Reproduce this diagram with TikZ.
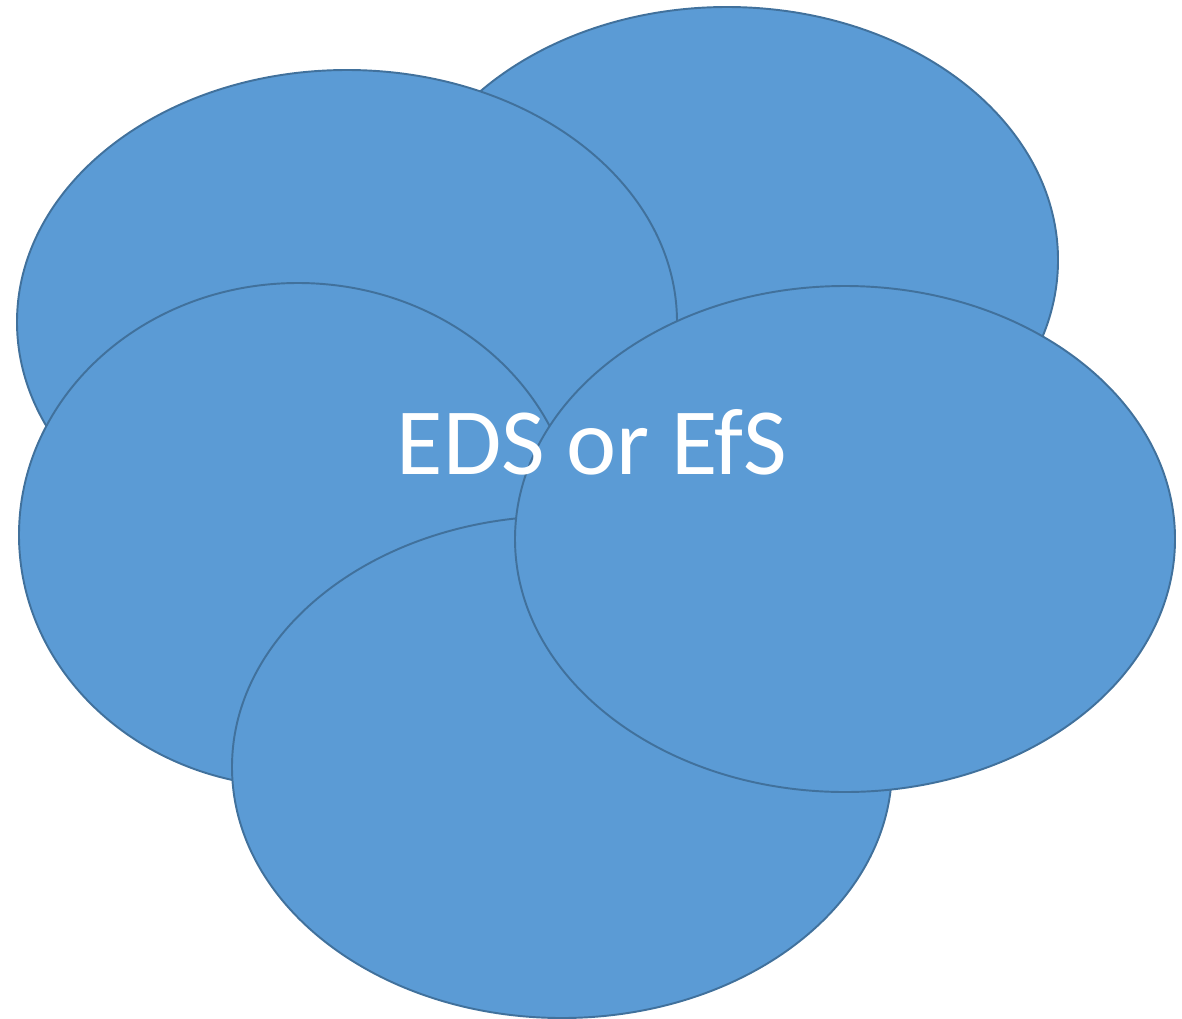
\documentclass[tikz,border=0pt]{standalone}
\usepackage{fontspec}
\setmainfont{Carlito}
\usepackage{xcolor}
\definecolor{blobfill}{HTML}{5B9BD5}
\definecolor{blobline}{HTML}{41719C}

\begin{document}
\begin{tikzpicture}[x=0.02cm,y=0.02cm]
        \tikzstyle{blob}=[fill=blobfill,draw=blobline,line width=1.1pt]
        \useasboundingbox (0,0) rectangle (1182,-1018);
        \filldraw [blob] (727,-260) ellipse [x radius=331, y radius=253];
        \filldraw [blob] (347,-322) ellipse [x radius=330, y radius=252];
        \filldraw [blob] (298,-535) ellipse [x radius=279, y radius=252];
        \filldraw [blob] (562,-767) ellipse [x radius=330, y radius=251];
        \filldraw [blob] (845,-539) ellipse [x radius=330, y radius=253];
        \node (title) [anchor=base, text=white, inner sep=0pt,
          font=\fontsize{54}{60}\selectfont] at (592,-474) {EDS or EfS};
\end{tikzpicture}
\end{document}
